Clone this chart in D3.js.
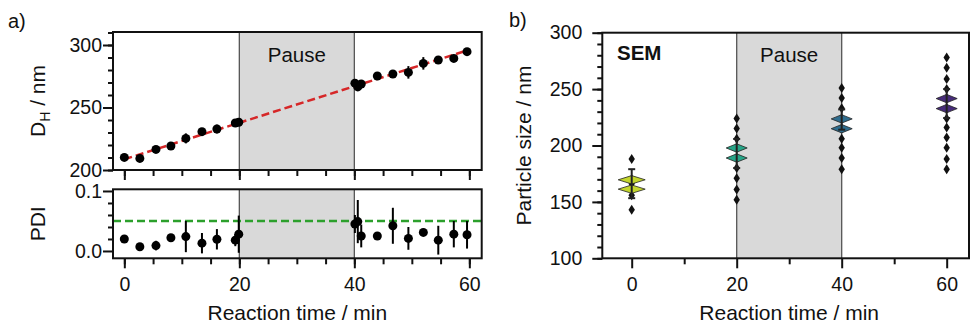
<!DOCTYPE html>
<html>
<head>
<meta charset="utf-8">
<script src="https://cdn.jsdelivr.net/npm/d3@7"></script>
<style>
  body { margin: 0; background: #fff; }
  svg text { font-family: "Liberation Sans", Arial, sans-serif; fill: #111; }
</style>
</head>
<body>
<div id="chart"></div>
<script>
// ---- panel a data (DLS) ----
var times = [0, 2.7, 5.5, 8.1, 10.7, 13.5, 16.1, 19.3, 19.9, 40.1, 40.6, 41.2, 44, 46.7, 49.4, 52, 54.6, 57.3, 59.6];
var dh = [210.1, 209.3, 216.5, 219.2, 225.3, 230.7, 232.8, 237.6, 238.2, 269.5, 266.5, 268.8, 275.2, 276.8, 278.1, 285.3, 288, 289.3, 294.7];
var dhErr = [1.5, 1, 1, 1.5, 4, 1.5, 3.5, 1, 1.5, 2, 3, 2, 1, 1.5, 5, 5, 2, 1.5, 1.5];
var pdi = [0.020, 0.007, 0.009, 0.022, 0.024, 0.013, 0.0195, 0.018, 0.028, 0.045, 0.049, 0.025, 0.025, 0.042, 0.021, 0.031, 0.018, 0.028, 0.027];
var pdiErr = [0.004, 0.003, 0.008, 0.004, 0.026, 0.017, 0.017, 0.01, 0.031, 0.015, 0.036, 0.019, 0.006, 0.03, 0.019, 0.002, 0.024, 0.022, 0.023];
var fitLine = [[0, 208.6], [60, 296.2]];
var pdiLimit = 0.05;
var pause = [20, 40];

// ---- panel b data (SEM) ----
var semTimes = [0, 20, 40, 60];
var semPoints = [
    [188, 170, 166, 161, 156, 143],
    [224, 215, 206, 198, 189, 180, 171, 161, 152],
    [251, 242, 233, 224, 215, 206, 198, 189, 179],
    [278, 269, 259, 250, 242, 233, 224, 216, 207, 198, 188, 179]
];
var semMarks = [[169.6, 161.3], [197.8, 188.9], [223.6, 214.9], [241.6, 232.7]];
var semErr = [[153.3, 179], [180, 205.8], [214, 232], [224.4, 250]];
var semColors = ["#c3d62c", "#27a487", "#2f6d8e", "#472c7a"];

var W = 971, H = 328;
var svg = d3.select("#chart").append("svg")
    .attr("width", W)
    .attr("height", H);

var tickFont = 19.5, labelFont = 21;

// frames
var aTop = {x0: 113, x1: 481.7, y0: 32, y1: 170};
var aBot = {x0: 113, x1: 481.7, y0: 189.3, y1: 258.3};
var bBox = {x0: 602.3, x1: 969, y0: 32.7, y1: 258.3};

var xa = d3.scaleLinear().domain([-1.97, 62.15]).range([aTop.x0, aTop.x1]);
var yTop = d3.scaleLinear().domain([200, 310.4]).range([aTop.y1, aTop.y0]);
var yBot = d3.scaleLinear().domain([-0.0122, 0.1028]).range([aBot.y1, aBot.y0]);
var xb = d3.scaleLinear().domain([-5.6, 64.25]).range([bBox.x0, bBox.x1]);
var yb = d3.scaleLinear().domain([100, 300]).range([bBox.y1, bBox.y0]);

function styleAxis(g) {
    g.select(".domain").remove();
    g.selectAll(".tick line").attr("stroke", "#111").attr("stroke-width", 2);
    g.selectAll(".tick text")
        .attr("font-size", tickFont)
        .attr("font-family", "Liberation Sans, Arial, sans-serif")
        .attr("fill", "#111");
}

function drawAxes(x, y, box, opts) {
    // x minor + major
    svg.append("g")
        .attr("transform", "translate(0," + box.y1 + ")")
        .call(d3.axisBottom(x).tickValues(opts.xMinor).tickSize(6).tickFormat(""))
        .call(styleAxis);
    svg.append("g")
        .attr("transform", "translate(0," + box.y1 + ")")
        .call(d3.axisBottom(x).tickValues(opts.xMajor).tickSize(10).tickPadding(9)
            .tickFormat(opts.xLabels ? d3.format("d") : ""))
        .call(styleAxis);
    svg.append("g")
        .attr("transform", "translate(" + box.x0 + ",0)")
        .call(d3.axisLeft(y).tickValues(opts.yMinor).tickSize(5).tickFormat(""))
        .call(styleAxis);
    svg.append("g")
        .attr("transform", "translate(" + box.x0 + ",0)")
        .call(d3.axisLeft(y).tickValues(opts.yMajor).tickSize(10).tickPadding(opts.yPad)
            .tickFormat(opts.yFormat))
        .call(styleAxis);
    svg.append("rect")
        .attr("x", box.x0).attr("y", box.y0)
        .attr("width", box.x1 - box.x0).attr("height", box.y1 - box.y0)
        .attr("fill", "none").attr("stroke", "#111").attr("stroke-width", 2);
}

function pauseBand(x, box) {
    svg.append("rect")
        .attr("x", x(pause[0])).attr("y", box.y0)
        .attr("width", x(pause[1]) - x(pause[0])).attr("height", box.y1 - box.y0)
        .attr("fill", "#d9d9d9");
    pause.forEach(function (p) {
        svg.append("line")
            .attr("x1", x(p)).attr("x2", x(p))
            .attr("y1", box.y0).attr("y2", box.y1)
            .attr("stroke", "#555").attr("stroke-width", 1.3);
    });
}

// ================= panel a, top =================
pauseBand(xa, aTop);
svg.append("text")
    .attr("x", xa(30)).attr("y", 62)
    .attr("text-anchor", "middle")
    .attr("font-size", 20.5)
    .text("Pause");

svg.append("line")
    .attr("x1", xa(fitLine[0][0])).attr("y1", yTop(fitLine[0][1]))
    .attr("x2", xa(fitLine[1][0])).attr("y2", yTop(fitLine[1][1]))
    .attr("stroke", "#d62728").attr("stroke-width", 2.5)
    .attr("stroke-dasharray", "8,4");

var dhData = times.map(function (t, i) { return {t: t, v: dh[i], e: dhErr[i]}; });
svg.selectAll(".dherr").data(dhData).enter().append("line")
    .attr("x1", function (d) { return xa(d.t); })
    .attr("x2", function (d) { return xa(d.t); })
    .attr("y1", function (d) { return yTop(d.v - d.e); })
    .attr("y2", function (d) { return yTop(d.v + d.e); })
    .attr("stroke", "#000").attr("stroke-width", 2);
svg.selectAll(".dhdot").data(dhData).enter().append("circle")
    .attr("cx", function (d) { return xa(d.t); })
    .attr("cy", function (d) { return yTop(d.v); })
    .attr("r", 4.5)
    .attr("fill", "#000");

drawAxes(xa, yTop, aTop, {
    xMinor: d3.range(0, 61, 5), xMajor: [0, 20, 40, 60], xLabels: false,
    yMinor: d3.range(200, 311, 10), yMajor: [200, 250, 300], yPad: 1,
    yFormat: d3.format("d")
});

// ================= panel a, bottom =================
pauseBand(xa, aBot);
svg.append("line")
    .attr("x1", aBot.x0).attr("x2", aBot.x1)
    .attr("y1", yBot(pdiLimit)).attr("y2", yBot(pdiLimit))
    .attr("stroke", "#2ca02c").attr("stroke-width", 2.5)
    .attr("stroke-dasharray", "8,4");

var pdiData = times.map(function (t, i) { return {t: t, v: pdi[i], e: pdiErr[i]}; });
svg.selectAll(".pdierr").data(pdiData).enter().append("line")
    .attr("x1", function (d) { return xa(d.t); })
    .attr("x2", function (d) { return xa(d.t); })
    .attr("y1", function (d) { return yBot(d.v - d.e); })
    .attr("y2", function (d) { return yBot(d.v + d.e); })
    .attr("stroke", "#000").attr("stroke-width", 2);
svg.selectAll(".pdidot").data(pdiData).enter().append("circle")
    .attr("cx", function (d) { return xa(d.t); })
    .attr("cy", function (d) { return yBot(d.v); })
    .attr("r", 4.5)
    .attr("fill", "#000");

drawAxes(xa, yBot, aBot, {
    xMinor: d3.range(0, 61, 5), xMajor: [0, 20, 40, 60], xLabels: true,
    yMinor: [0.02, 0.04, 0.06, 0.08], yMajor: [0, 0.1], yPad: 1,
    yFormat: d3.format(".1f")
});

// labels panel a
svg.append("text").attr("x", 8).attr("y", 28).attr("font-size", 20).text("a)");
var dhLab = svg.append("text")
    .attr("transform", "translate(45," + ((aTop.y0 + aTop.y1) / 2) + ") rotate(-90)")
    .attr("text-anchor", "middle")
    .attr("font-size", labelFont);
dhLab.append("tspan").text("D");
dhLab.append("tspan").attr("font-size", 14).attr("dy", 5).text("H");
dhLab.append("tspan").attr("dy", -5).text(" / nm");
svg.append("text")
    .attr("transform", "translate(45," + ((aBot.y0 + aBot.y1) / 2) + ") rotate(-90)")
    .attr("text-anchor", "middle")
    .attr("font-size", labelFont)
    .text("PDI");
svg.append("text")
    .attr("x", (aTop.x0 + aTop.x1) / 2).attr("y", 320)
    .attr("text-anchor", "middle")
    .attr("font-size", labelFont)
    .text("Reaction time / min");

// ================= panel b =================
pauseBand(xb, bBox);
svg.append("text")
    .attr("x", xb(30)).attr("y", 62)
    .attr("text-anchor", "middle")
    .attr("font-size", 20.5)
    .text("Pause");
svg.append("text")
    .attr("x", 617).attr("y", 60)
    .attr("font-size", 20.5).attr("font-weight", "bold")
    .text("SEM");

function thinDiamond(cx, cy, hw, hh) {
    return "M" + (cx - hw) + "," + cy + "L" + cx + "," + (cy - hh) +
        "L" + (cx + hw) + "," + cy + "L" + cx + "," + (cy + hh) + "Z";
}

semTimes.forEach(function (t, gi) {
    var cx = xb(t);
    var g = svg.append("g");
    g.selectAll("path.pt").data(semPoints[gi]).enter().append("path")
        .attr("d", function (v) { return thinDiamond(cx, yb(v), 3.2, 5); })
        .attr("fill", "#111");
    g.selectAll("path.mk").data(semMarks[gi]).enter().append("path")
        .attr("d", function (v) { return thinDiamond(cx, yb(v), gi === 0 ? 13.5 : 10.5, 4.2); })
        .attr("fill", semColors[gi])
        .attr("stroke", "#222").attr("stroke-width", 0.8);
    var e = semErr[gi];
    g.append("line")
        .attr("x1", cx).attr("x2", cx)
        .attr("y1", yb(e[0])).attr("y2", yb(e[1]))
        .attr("stroke", "#222").attr("stroke-width", 2);
    e.forEach(function (v) {
        g.append("line")
            .attr("x1", cx - 3.5).attr("x2", cx + 3.5)
            .attr("y1", yb(v)).attr("y2", yb(v))
            .attr("stroke", "#222").attr("stroke-width", 2);
    });
});

drawAxes(xb, yb, bBox, {
    xMinor: [10, 30, 50], xMajor: [0, 20, 40, 60], xLabels: true,
    yMinor: d3.range(100, 301, 10), yMajor: [100, 150, 200, 250, 300], yPad: 10,
    yFormat: d3.format("d")
});

svg.append("text").attr("x", 509).attr("y", 27).attr("font-size", 20).text("b)");
svg.append("text")
    .attr("transform", "translate(531," + ((bBox.y0 + bBox.y1) / 2) + ") rotate(-90)")
    .attr("text-anchor", "middle")
    .attr("font-size", labelFont)
    .text("Particle size / nm");
svg.append("text")
    .attr("x", xb(30)).attr("y", 320)
    .attr("text-anchor", "middle")
    .attr("font-size", labelFont)
    .text("Reaction time / min");
</script>
</body>
</html>
